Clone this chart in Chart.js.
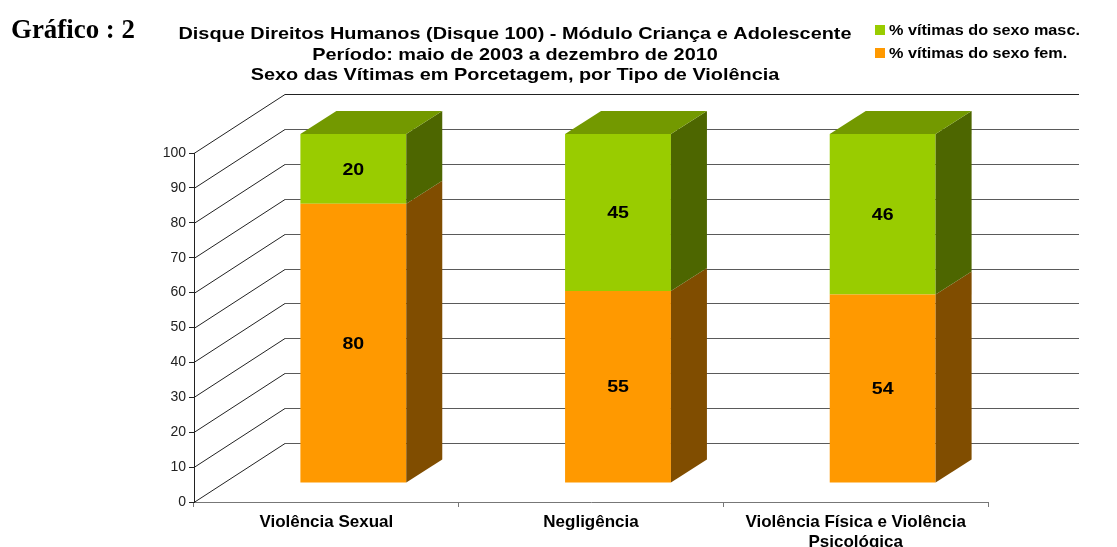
<!DOCTYPE html>
<html>
<head>
<meta charset="utf-8">
<script src="https://cdn.jsdelivr.net/npm/chart.js@4.4.1/dist/chart.umd.min.js"></script>
<style>
  html, body { margin: 0; padding: 0; background: #fff; }
  #wrap { position: relative; width: 1117px; height: 547px; }
</style>
</head>
<body>
<div id="wrap"><canvas id="chart"></canvas></div>
<script>
// categories and percentages (fem stacked first, masc on top)
const categories = [['Violência Sexual'], ['Negligência'], ['Violência Física e Violência', 'Psicológica']];
const femValues = [80, 55, 54];
const mascValues = [20, 45, 46];
const femLabel = '% vítimas do sexo fem.';
const mascLabel = '% vítimas do sexo masc.';
const titleLines = [
  'Disque Direitos Humanos (Disque 100) - Módulo Criança e Adolescente',
  'Período: maio de 2003 a dezembro de 2010',
  'Sexo das Vítimas em Porcetagem, por Tipo de Violência'
];
const chartTag = 'Gráfico : 2';

// fake-3d geometry: back wall offset, bar front offset, bar depth
const WALL_DX = 91, WALL_DY = -59;
const FACE_DX = 27, FACE_DY = -19;
const BAR_DX = 36, BAR_DY = -23;

const COLORS = {
  fem:  { front: '#FF9900', side: '#804D00', top: '#BF7300' },
  masc: { front: '#99CC00', side: '#4D6600', top: '#739900' }
};
const SANS = '"Liberation Sans", Arial, sans-serif';

function quad(ctx, pts, color) {
  ctx.beginPath();
  ctx.moveTo(pts[0][0], pts[0][1]);
  for (let i = 1; i < pts.length; i++) ctx.lineTo(pts[i][0], pts[i][1]);
  ctx.closePath();
  ctx.fillStyle = color;
  ctx.fill();
}

// text drawn slightly wider than the font's natural width
function wideText(ctx, txt, x, y, sx) {
  ctx.save();
  ctx.translate(x, y);
  ctx.scale(sx, 1);
  ctx.fillText(txt, 0, 0);
  ctx.restore();
}

// back wall + left wall grid, then shift bar drawing into depth
const box3d = {
  id: 'box3d',
  beforeDatasetsDraw(chart) {
    const { ctx, chartArea: a, scales: { y } } = chart;
    ctx.save();
    ctx.lineWidth = 1;
    y.ticks.forEach(t => {
      const py = Math.round(y.getPixelForValue(t.value)) + 0.5;
      ctx.strokeStyle = '#222';
      ctx.beginPath();
      ctx.moveTo(a.left, py);
      ctx.lineTo(a.left + WALL_DX, py + WALL_DY);
      ctx.stroke();
      ctx.strokeStyle = t.value === 100 ? '#222' : '#5a5a5a';
      ctx.beginPath();
      ctx.moveTo(a.left + WALL_DX, py + WALL_DY);
      ctx.lineTo(a.right + WALL_DX, py + WALL_DY);
      ctx.stroke();
    });
    ctx.restore();
    ctx.save();
    ctx.translate(FACE_DX, FACE_DY);
  },
  afterDatasetsDraw(chart) {
    const { ctx } = chart;
    const keys = ['fem', 'masc'];
    const last = chart.data.datasets.length - 1;
    chart.data.datasets.forEach((ds, di) => {
      const col = COLORS[keys[di]];
      chart.getDatasetMeta(di).data.forEach(el => {
        const top = Math.min(el.y, el.base), bot = Math.max(el.y, el.base);
        const l = el.x - el.width / 2, r = el.x + el.width / 2;
        quad(ctx, [[r, top], [r + BAR_DX, top + BAR_DY], [r + BAR_DX, bot + BAR_DY], [r, bot]], col.side);
        if (di === last) {
          quad(ctx, [[l, top], [l + BAR_DX, top + BAR_DY], [r + BAR_DX, top + BAR_DY], [r, top]], col.top);
        }
      });
    });
    ctx.font = 'bold 17px ' + SANS;
    ctx.fillStyle = '#000';
    ctx.textAlign = 'center';
    ctx.textBaseline = 'middle';
    chart.data.datasets.forEach((ds, di) => {
      chart.getDatasetMeta(di).data.forEach((el, i) => {
        wideText(ctx, String(ds.data[i]), el.x, (el.y + el.base) / 2 + 1, 1.15);
      });
    });
    ctx.restore();
  }
};

// heading, chart tag and legend
const headings = {
  id: 'headings',
  afterDraw(chart) {
    const { ctx } = chart;
    ctx.save();
    ctx.fillStyle = '#000';
    ctx.textBaseline = 'alphabetic';
    ctx.textAlign = 'left';
    ctx.font = 'bold 28px "Liberation Serif", "Times New Roman", serif';
    wideText(ctx, chartTag, 11, 38, 0.96);

    ctx.textAlign = 'center';
    ctx.font = 'bold 17px ' + SANS;
    titleLines.forEach((t, i) => wideText(ctx, t, 515, 39 + i * 20.5, 1.17));

    const items = [[mascLabel, COLORS.masc.front], [femLabel, COLORS.fem.front]];
    ctx.textAlign = 'left';
    ctx.font = 'bold 15px ' + SANS;
    items.forEach(([txt, c], i) => {
      const yy = 25 + i * 23;
      ctx.fillStyle = c;
      ctx.fillRect(875, yy, 10, 10);
      ctx.fillStyle = '#000';
      wideText(ctx, txt, 889, yy + 10, 1.08);
    });
    ctx.restore();
  }
};

const ctx = document.getElementById('chart').getContext('2d');
new Chart(ctx, {
  type: 'bar',
  data: {
    labels: categories,
    datasets: [
      { label: femLabel, data: femValues, backgroundColor: COLORS.fem.front, clip: false },
      { label: mascLabel, data: mascValues, backgroundColor: COLORS.masc.front, clip: false }
    ]
  },
  options: {
    responsive: true,
    maintainAspectRatio: false,
    animation: false,
    events: [],
    layout: { padding: { top: 153, right: 129, left: 0, bottom: 0 } },
    datasets: { bar: { categoryPercentage: 1, barPercentage: 0.4, borderWidth: 0 } },
    plugins: { legend: { display: false }, title: { display: false }, tooltip: { enabled: false } },
    scales: {
      x: {
        stacked: true,
        grid: { drawOnChartArea: false, offset: true, tickLength: 5, color: '#777' },
        border: { color: '#777' },
        ticks: { color: '#000', padding: 5, maxRotation: 0, autoSkip: false,
                 font: { family: SANS, size: 17, weight: 'bold' } },
        afterFit(s) { s.height = 45; }
      },
      y: {
        stacked: true,
        min: 0, max: 100,
        grid: { drawOnChartArea: false, tickLength: 5, color: '#222' },
        border: { color: '#222' },
        ticks: { stepSize: 10, color: '#222', padding: 3,
                 font: { family: SANS, size: 14 } },
        afterFit(s) { s.width = 194; }
      }
    }
  },
  plugins: [box3d, headings]
});
</script>
</body>
</html>
